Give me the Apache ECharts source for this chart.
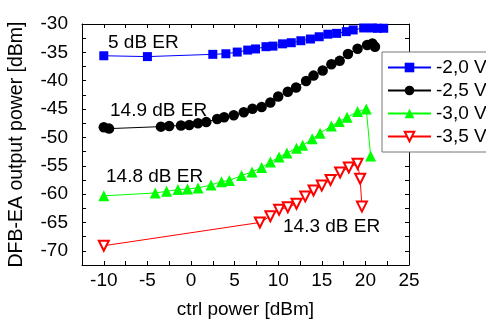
<!DOCTYPE html>
<html><head><meta charset="utf-8">
<script src="https://cdn.jsdelivr.net/npm/echarts@6/dist/echarts.min.js"></script>
<style>html,body{margin:0;padding:0;background:#fff}#c{width:486px;height:321px}</style>
</head><body><div id="c"></div>
<script>
// ---- data ----
const seriesNames = ['-2,0 V', '-2,5 V', '-3,0 V', '-3,5 V'];

const xBlue = [-10, -5, 2.5, 4, 5.3, 6.5, 7.4, 8.6, 9.4, 10.5, 11.5, 12.6, 13.7, 14.7, 15.7, 16.7, 17.8, 18.6, 19.8, 20.8, 21.4, 22.1];
const yBlue = [-35.6, -35.75, -35.35, -35.25, -34.95, -34.6, -34.4, -34.0, -33.9, -33.5, -33.3, -32.95, -32.65, -32.25, -31.8, -31.65, -31.35, -31.05, -30.7, -30.7, -30.75, -30.75];

const xBlack = [-10, -9.4, -3.45, -2.5, -1.15, -0.2, 0.8, 1.75, 3.0, 3.8, 4.9, 6.05, 7.05, 8.1, 9.1, 10.0, 11.1, 12.05, 13.2, 14.05, 15.1, 16.1, 17.05, 18.0, 19.1, 20.2, 20.8, 21.1];
const yBlack = [-48.2, -48.45, -48.1, -48.0, -47.9, -47.8, -47.5, -47.3, -46.75, -46.45, -46.1, -45.55, -44.95, -44.65, -43.85, -42.8, -41.95, -41.2, -40.05, -39.1, -38.2, -37.1, -36.5, -35.3, -34.35, -33.7, -33.45, -34.0];

const xGreen = [-10, -4.1, -2.8, -1.5, -0.4, 0.8, 2.3, 3.5, 4.4, 5.8, 7.0, 8.1, 9.1, 10.1, 11.0, 12.1, 12.8, 13.9, 14.8, 16.1, 17.0, 17.9, 19.1, 20.1, 20.6];
const yGreen = [-60.3, -59.8, -59.5, -59.2, -59.1, -58.9, -58.4, -57.8, -57.6, -56.7, -56.1, -55.3, -54.35, -53.45, -52.75, -51.9, -51.4, -50.25, -49.25, -48.0, -47.2, -46.45, -45.45, -45.0, -53.3];

const xRed = [-10, 7.9, 9.1, 10.1, 11.1, 12.1, 13.1, 14.05, 15.0, 16.0, 17.1, 18.1, 19.1, 19.4, 19.6];
const yRed = [-69.1, -65.0, -63.9, -62.75, -62.3, -61.7, -60.4, -59.35, -58.5, -57.5, -56.2, -55.3, -54.65, -57.3, -62.2];

const annotations = ['5 dB ER', '14.9 dB ER', '14.8 dB ER', '14.3 dB ER'];

// ---- chart ----
const FONT = '"Liberation Sans", Arial, sans-serif';
const chart = echarts.init(document.getElementById('c'), null, {renderer: 'canvas'});
const pairs = (xs, ys) => xs.map((x, i) => [x, ys[i]]);
const fiveOnly = v => (Math.abs(v % 5) < 1e-9 ? String(v) : '');

const axisCommon = {
  type: 'value', interval: 2.5, splitLine: {show: false},
  axisLine: {show: true, onZero: false, lineStyle: {color: '#000', width: 1}},
  axisTick: {show: true, inside: true, length: 4, lineStyle: {color: '#000', width: 1}}
};

const xMin = -12.5, xMax = 25, yMin = -72.5, yMax = -30;

chart.setOption({
  animation: false,
  backgroundColor: '#fff',
  grid: {left: 82, right: 77, top: 24, bottom: 56, containLabel: false, outerBoundsMode: 'none'},
  xAxis: [
    Object.assign({}, axisCommon, {
      position: 'bottom', min: xMin, max: xMax,
      axisLabel: {formatter: fiveOnly, fontSize: 19, fontFamily: FONT, color: '#000', margin: 6},
      name: 'ctrl power [dBm]', nameLocation: 'middle', nameGap: 35,
      nameTextStyle: {fontSize: 19, fontFamily: FONT, color: '#000'}
    }),
    Object.assign({}, axisCommon, {position: 'top', min: xMin, max: xMax, axisLabel: {show: false}})
  ],
  yAxis: [
    Object.assign({}, axisCommon, {
      position: 'left', min: yMin, max: yMax,
      axisLabel: {formatter: fiveOnly, fontSize: 19, fontFamily: FONT, color: '#000', margin: 14,
                  verticalAlign: 'middle', padding: [0, 0, 14, 0]},
      name: 'DFB-EA output power [dBm]', nameLocation: 'middle', nameGap: 55,
      nameTextStyle: {fontSize: 19.5, fontFamily: FONT, color: '#000'}
    }),
    Object.assign({}, axisCommon, {position: 'right', min: yMin, max: yMax, axisLabel: {show: false}})
  ],
  legend: {
    orient: 'vertical', left: 382, top: 52,
    backgroundColor: '#fff', borderColor: '#777', borderWidth: 1,
    padding: [6, 8, 6, 5], itemWidth: 43, itemHeight: 12, itemGap: 4,
    textStyle: {fontSize: 19, fontFamily: FONT, color: '#000'},
    data: seriesNames
  },
  series: [
    {name: seriesNames[0], type: 'line', data: pairs(xBlue, yBlue), symbol: 'rect', symbolSize: 9,
     color: '#0000ff', lineStyle: {width: 1, color: '#0000ff'}, itemStyle: {color: '#0000ff'}},
    {name: seriesNames[1], type: 'line', data: pairs(xBlack, yBlack), symbol: 'circle', symbolSize: 10.5,
     color: '#000000', lineStyle: {width: 1, color: '#000'}, itemStyle: {color: '#000'}},
    {name: seriesNames[2], type: 'line', data: pairs(xGreen, yGreen), symbol: 'triangle', symbolSize: 11,
     color: '#00ff00', lineStyle: {width: 1, color: '#00ff00'}, itemStyle: {color: '#00ff00'}},
    {name: seriesNames[3], type: 'line', data: pairs(xRed, yRed), symbol: 'emptyTriangle', symbolSize: 10, symbolRotate: 180,
     color: '#ff0000', lineStyle: {width: 1, color: '#ff0000'}, itemStyle: {color: '#ff0000', borderColor: '#ff0000', borderWidth: 1}}
  ],
  graphic: [
    {type: 'text', x: 108, y: 43, z: 10, style: {text: annotations[0], font: '19px ' + FONT, fill: '#000', verticalAlign: 'middle'}},
    {type: 'text', x: 110, y: 111, z: 10, style: {text: annotations[1], font: '19px ' + FONT, fill: '#000', verticalAlign: 'middle'}},
    {type: 'text', x: 106, y: 177, z: 10, style: {text: annotations[2], font: '19px ' + FONT, fill: '#000', verticalAlign: 'middle'}},
    {type: 'text', x: 283, y: 227, z: 10, style: {text: annotations[3], font: '19px ' + FONT, fill: '#000', verticalAlign: 'middle'}}
  ]
});
</script>
</body></html>
